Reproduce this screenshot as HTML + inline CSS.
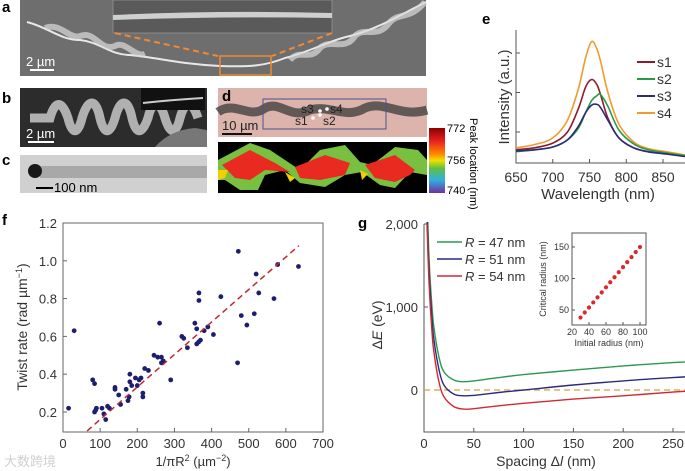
<!DOCTYPE html>
<html><head><meta charset="utf-8"><style>
html,body{margin:0;padding:0;background:#fff;}
svg{display:block;font-family:"Liberation Sans",sans-serif;}
</style></head><body>
<svg id="fig" width="685" height="471" viewBox="0 0 685 471">
<defs>
<linearGradient id="cb" x1="0" y1="0" x2="0" y2="1">
<stop offset="0" stop-color="#8b0000"/><stop offset="0.2" stop-color="#e82020"/><stop offset="0.4" stop-color="#ff8800"/><stop offset="0.5" stop-color="#f0e000"/><stop offset="0.62" stop-color="#5ec040"/><stop offset="0.8" stop-color="#30b0e0"/><stop offset="1" stop-color="#7030a0"/>
</linearGradient>
</defs>

<g>
<text x="2" y="12" font-size="15" font-weight="bold">a</text>
<rect x="20" y="0" width="406" height="76" fill="#6e6e6e"/>
<rect x="113" y="0" width="219" height="33" fill="#5a5a5a" stroke="#999" stroke-width="0.7"/>
<path d="M113 15 Q220 10 332 13 L332 18 Q220 16 113 20 Z" fill="#cfcfcf"/>
<path d="M27 22 C50 28 60 40 80 40 C100 42 110 55 130 55 C160 58 180 64 220 66 C250 67 265 66 285 58 C310 52 330 40 350 36 C380 28 400 15 426 2" fill="none" stroke="#e8e8e8" stroke-width="2"/>
<path d="M45 28 C60 22 70 40 80 36 C95 30 100 52 115 46 C125 40 135 58 145 54 M290 60 C300 48 310 62 320 48 C330 38 345 52 355 36 C365 26 378 40 390 22 C400 12 410 20 425 2" fill="none" stroke="#dcdcdc" stroke-width="6" opacity="0.7"/>
<line x1="115" y1="33" x2="218" y2="56" stroke="#f08a30" stroke-width="2" stroke-dasharray="6,4"/>
<line x1="332" y1="33" x2="272" y2="56" stroke="#f08a30" stroke-width="2" stroke-dasharray="6,4"/>
<rect x="220" y="56" width="51" height="19" fill="none" stroke="#f08a30" stroke-width="1.5"/>
<text x="26" y="66" font-size="13" fill="#fff">2 µm</text>
<rect x="30" y="69" width="24" height="2" fill="#fff"/>
</g>

<g>
<text x="2" y="103" font-size="15" font-weight="bold">b</text>
<rect x="20" y="88" width="187" height="59" fill="#2c2c2c"/>
<path d="M30 118 L50 118 C55 100 62 100 68 118 C72 135 78 135 82 118 C88 98 96 98 100 118 C104 135 110 135 115 118 C120 98 128 98 132 118 C136 135 142 135 148 118 C152 100 160 100 165 118 C170 135 176 135 180 118 C185 100 192 100 198 118" fill="none" stroke="#c8c8c8" stroke-width="9" opacity="0.85"/>
<rect x="141" y="88" width="64" height="22" fill="#111"/>
<path d="M143 103 Q170 100 203 98" stroke="#ccc" stroke-width="2" fill="none"/>
<path d="M155 147 Q170 130 195 128 L207 130 L207 147 Z" fill="#777"/>
<text x="26" y="138" font-size="13" fill="#fff">2 µm</text>
<rect x="28" y="141" width="26" height="2" fill="#fff"/>
</g>

<g>
<text x="2" y="165" font-size="15" font-weight="bold">c</text>
<rect x="20" y="155" width="187" height="38" fill="#d0d0d0"/>
<rect x="40" y="166" width="167" height="12" fill="#a8a8a8"/>
<circle cx="35" cy="171" r="7" fill="#181818"/>
<rect x="36" y="187" width="17" height="2" fill="#000"/>
<text x="54" y="192" font-size="13">100 nm</text>
</g>

<g>
<rect x="218" y="88" width="209" height="49" fill="#dcb4ac"/>
<path d="M218 112 C235 100 250 120 265 108 C280 100 290 120 310 110 C330 104 345 120 365 108 C385 100 400 118 427 110" fill="none" stroke="#3a3a3a" stroke-width="9" opacity="0.75"/>
<rect x="263" y="99" width="123" height="30" fill="none" stroke="#4a5590" stroke-width="1"/>
<circle cx="313" cy="118" r="1.8" fill="#fff"/><circle cx="320" cy="115" r="1.8" fill="#fff"/><circle cx="320" cy="111" r="1.8" fill="#fff"/><circle cx="327" cy="109" r="1.8" fill="#fff"/>
<text x="222" y="101" font-size="15" font-weight="bold">d</text>
<text x="301" y="113" font-size="12" fill="#222">s3</text><text x="330" y="113" font-size="12" fill="#222">s4</text>
<text x="295" y="125" font-size="12" fill="#222">s1</text><text x="323" y="125" font-size="12" fill="#222">s2</text>
<text x="222" y="130" font-size="13" fill="#222">10 µm</text>
<rect x="222" y="133" width="30" height="2" fill="#111"/>
<rect x="218" y="142" width="209" height="51" fill="#000"/>
<path d="M218 160 L250 143 L270 150 L285 160 L300 170 L320 150 L345 145 L360 162 L372 165 L395 147 L418 150 L427 160 L427 175 L410 172 L395 188 L380 185 L362 172 L345 175 L325 187 L300 183 L285 170 L265 175 L258 190 L240 190 L225 180 L218 180 Z" fill="#7ac040"/>
<path d="M222 165 L250 150 L275 163 L290 172 L265 170 L250 180 L235 178 Z M295 167 L325 155 L350 163 L345 175 L320 180 L300 178 Z M365 165 L395 155 L415 170 L410 175 L395 182 L375 178 Z" fill="#e82a20"/>
<path d="M218 170 L228 170 L225 178 L218 180 Z M285 172 L295 178 L290 182 Z M360 170 L368 174 L362 180 Z" fill="#f0d000"/>
<rect x="429" y="128" width="16" height="65" fill="url(#cb)"/>
<text x="447" y="132" font-size="11">772</text>
<text x="447" y="164" font-size="11">756</text>
<text x="447" y="194" font-size="11">740</text>
<text transform="translate(470,118) rotate(90)" font-size="11">Peak location (nm)</text>
</g>

<g id="pe"></g>
<g id="pf"></g>
<g id="pg"></g>

<text x="4" y="466" font-size="13" fill="#d0d0d0">大数跨境</text>
</svg>
<script>
const eWavelengths=[650,675,700,720,735,745,753,760,765,775,790,810,830,855,880];
const eS1=[0.55,0.6,0.72,1.0,1.6,2.15,2.33,2.2,1.95,1.35,0.85,0.6,0.5,0.45,0.38];
const eS2=[0.5,0.55,0.62,0.8,1.1,1.5,1.8,1.92,1.95,1.65,1.05,0.7,0.55,0.47,0.4];
const eS3=[0.52,0.55,0.62,0.8,1.15,1.5,1.68,1.7,1.62,1.3,0.85,0.6,0.5,0.44,0.38];
const eS4=[0.6,0.68,0.85,1.3,2.1,2.9,3.29,3.1,2.8,2.0,1.2,0.75,0.58,0.5,0.42];
const eXTicks=[650,700,750,800,850];
const eSeriesNames=["s1","s2","s3","s4"];
const fX=[15,30,80,85,85,88,90,105,110,115,120,125,140,140,150,155,170,175,178,180,180,185,195,200,205,210,215,215,220,230,245,255,260,265,265,270,290,320,325,335,355,360,360,365,370,380,390,405,470,480,495,515,366,366,425,472,520,527,568,578,634];
const fY=[0.22,0.63,0.37,0.35,0.2,0.21,0.22,0.22,0.19,0.16,0.23,0.22,0.32,0.33,0.29,0.24,0.32,0.26,0.28,0.4,0.36,0.34,0.38,0.34,0.37,0.38,0.3,0.28,0.43,0.42,0.5,0.49,0.67,0.49,0.46,0.47,0.37,0.6,0.59,0.54,0.67,0.64,0.56,0.57,0.58,0.63,0.65,0.61,0.46,0.71,0.66,0.72,0.83,0.79,0.81,1.05,0.93,0.83,0.8,0.98,0.97];
const fFitX=[65,635];
const fFitY=[0.1,1.08];
const fXTicks=[0,100,200,300,400,500,600,700];
const fYTicks=[0.2,0.4,0.6,0.8,1.0,1.2];
const gL=[3,5,8,10,15,20,30,40,50,75,100,150,200,250,280];
const gR47=[2400,1600,1000,750,400,220,120,100,110,150,185,240,290,330,350];
const gR51=[2100,1450,850,600,250,60,-50,-70,-65,-30,0,60,110,150,170];
const gR54=[2000,1300,700,450,100,-80,-200,-230,-225,-190,-160,-110,-70,-25,0];
const gXTicks=[0,50,100,150,200,250];
const gYTicks=[0,1000,2000];
const gYTickLabels=["0","1,000","2,000"];
const gLegend=["47","51","54"];
const gInsetX=[30,35,40,45,50,55,60,65,70,75,80,85,90,95,100];
const gInsetY=[38,46,54,62,70,78,86,94,102,110,118,126,134,142,150];
const gInsetXTicks=[20,40,60,80,100];
const gInsetYTicks=[50,100,150];

const NS="http://www.w3.org/2000/svg";
function mk(parent,tag,attrs){const el=document.createElementNS(NS,tag);for(const k in attrs)el.setAttribute(k,attrs[k]);parent.appendChild(el);return el;}
function lin(d0,d1,r0,r1){return v=>r0+(v-d0)*(r1-r0)/(d1-d0);}
function smooth(pts){
 let d='M'+pts[0][0].toFixed(1)+' '+pts[0][1].toFixed(1);
 for(let i=0;i<pts.length-1;i++){
  const p0=pts[Math.max(i-1,0)],p1=pts[i],p2=pts[i+1],p3=pts[Math.min(i+2,pts.length-1)];
  const c1=[p1[0]+(p2[0]-p0[0])/6,p1[1]+(p2[1]-p0[1])/6];
  const c2=[p2[0]-(p3[0]-p1[0])/6,p2[1]-(p3[1]-p1[1])/6];
  d+=' C'+c1[0].toFixed(1)+' '+c1[1].toFixed(1)+' '+c2[0].toFixed(1)+' '+c2[1].toFixed(1)+' '+p2[0].toFixed(1)+' '+p2[1].toFixed(1);
 }
 return d;
}

(function(){
const g=document.getElementById('pe');
const x=lin(650,850,516,663), y=lin(0,3,171.5,53);
const t=mk(g,'text',{x:482,y:24,'font-size':15,'font-weight':'bold'});t.textContent='e';


const ax=mk(g,'path',{d:'M516 30 L516 163 L685 163',fill:'none',stroke:'#555','stroke-width':1});


[1,2,3].forEach(v=>{mk(g,'line',{x1:516,x2:520,y1:y(v),y2:y(v),stroke:'#555'});});
eXTicks.forEach(v=>{mk(g,'line',{x1:x(v),x2:x(v),y1:163,y2:159,stroke:'#555'});
const l=mk(g,'text',{x:x(v),y:182,'font-size':14,'text-anchor':'middle',fill:'#333'});l.textContent=v;

});
const xt=mk(g,'text',{x:598,y:199,'font-size':15,'text-anchor':'middle',fill:'#333'});xt.textContent='Wavelength (nm)';


const yt=mk(g,'text',{transform:'translate(509,97) rotate(-90)','font-size':15,'text-anchor':'middle',fill:'#333'});yt.textContent='Intensity (a.u.)';


const series=[eS1,eS2,eS3,eS4], cols=['#8a1c2c','#2a9a4a','#2c2a7a','#f09a30'];
[3,0,1,2].forEach(i=>{
 const pts=eWavelengths.map((w,j)=>[x(w),y(series[i][j])]);
 const p=mk(g,'path',{d:smooth(pts),fill:'none',stroke:cols[i],'stroke-width':1.6,'stroke-linejoin':'round'});
 
 
});
eSeriesNames.forEach((n,i)=>{
 const yy=62+i*17;
 mk(g,'line',{x1:637,x2:655,y1:yy,y2:yy,stroke:cols[i],'stroke-width':2});
 const l=mk(g,'text',{x:657,y:yy+5,'font-size':14,fill:'#333'});l.textContent=n;
 
 
});
})();

(function(){
const g=document.getElementById('pf');
const x=lin(0,700,63,323), y=lin(0.2,1.2,412,223);
const t=mk(g,'text',{x:2,y:225,'font-size':15,'font-weight':'bold'});t.textContent='f';


const box=mk(g,'rect',{x:63,y:223,width:260,height:209,fill:'none',stroke:'#666'});


fXTicks.forEach(v=>{mk(g,'line',{x1:x(v),x2:x(v),y1:432,y2:428,stroke:'#666'});
const l=mk(g,'text',{x:x(v),y:448,'font-size':13,'text-anchor':'middle',fill:'#333'});l.textContent=v;

});
fYTicks.forEach(v=>{mk(g,'line',{x1:63,x2:67,y1:y(v),y2:y(v),stroke:'#666'});
const l=mk(g,'text',{x:57,y:y(v)+5,'font-size':13,'text-anchor':'end',fill:'#333'});l.textContent=v.toFixed(1);

});
const xt=mk(g,'text',{x:193,y:466,'font-size':13,'text-anchor':'middle',fill:'#333'});xt.innerHTML='1/πR<tspan dy="-5" font-size="9">2</tspan><tspan dy="5"> (µm</tspan><tspan dy="-5" font-size="9">−2</tspan><tspan dy="5">)</tspan>';


const yt=mk(g,'text',{transform:'translate(27,327) rotate(-90)','font-size':14,'text-anchor':'middle',fill:'#333'});yt.innerHTML='Twist rate (rad µm<tspan dy="-5" font-size="9">−1</tspan><tspan dy="5">)</tspan>';


fX.forEach((v,i)=>{const c=mk(g,'circle',{cx:x(v),cy:y(fY[i]),r:2.4,fill:'#1e1e6e'});

});
const fit=mk(g,'line',{x1:x(fFitX[0]),y1:y(fFitY[0]),x2:x(fFitX[1]),y2:y(fFitY[1]),stroke:'#c02830','stroke-width':1.5,'stroke-dasharray':'6,4'});


})();

(function(){
const g=document.getElementById('pg');
const x=lin(0,250,424,673), y=lin(0,1000,390,307);
const t=mk(g,'text',{x:358,y:228,'font-size':15,'font-weight':'bold'});t.textContent='g';


const ax=mk(g,'path',{d:'M424 224 L424 432 L685 432',fill:'none',stroke:'#555'});


gXTicks.forEach(v=>{mk(g,'line',{x1:x(v),x2:x(v),y1:432,y2:428,stroke:'#555'});
const l=mk(g,'text',{x:x(v),y:448,'font-size':13,'text-anchor':'middle',fill:'#333'});l.textContent=v;

});
gYTicks.forEach((v,i)=>{mk(g,'line',{x1:424,x2:428,y1:y(v),y2:y(v),stroke:'#555'});
const l=mk(g,'text',{x:418,y:y(v)+5,'font-size':13,'text-anchor':'end',fill:'#333'});l.textContent=gYTickLabels[i];

});
const xt=mk(g,'text',{x:546,y:466,'font-size':14,'text-anchor':'middle',fill:'#333'});xt.innerHTML='Spacing Δ<tspan font-style="italic">l</tspan> (nm)';


const yt=mk(g,'text',{transform:'translate(382,325) rotate(-90)','font-size':14,'text-anchor':'middle',fill:'#333'});yt.innerHTML='Δ<tspan font-style="italic">E</tspan> (eV)';


const zl=mk(g,'line',{x1:424,x2:685,y1:y(0),y2:y(0),stroke:'#d8a040','stroke-width':1.2,'stroke-dasharray':'6,4'});


const clip=mk(g,'clipPath',{id:'gclip'});mk(clip,'rect',{x:424,y:222,width:261,height:210});
const series=[gR47,gR51,gR54], cols=['#2a9a50','#2a2a80','#d02a30'];
series.forEach((s,i)=>{
 const pts=gL.map((l,j)=>[x(l),y(s[j])]);
 const p=mk(g,'path',{d:smooth(pts),fill:'none',stroke:cols[i],'stroke-width':1.4,'clip-path':'url(#gclip)'});
 
 
});
gLegend.forEach((n,i)=>{
 const yy=242+i*17;
 mk(g,'line',{x1:437,x2:462,y1:yy,y2:yy,stroke:cols[i],'stroke-width':1.4});
 const l=mk(g,'text',{x:465,y:yy+5,'font-size':13,fill:'#333'});l.innerHTML='<tspan font-style="italic">R</tspan> = '+n+' nm';
 
 
});
const ix=lin(20,100,572,640), iy=lin(50,150,310,247);
const ib=mk(g,'rect',{x:572,y:233,width:74,height:92,fill:'#fff',stroke:'#555'});


gInsetXTicks.forEach(v=>{mk(g,'line',{x1:ix(v),x2:ix(v),y1:325,y2:322,stroke:'#555'});
const l=mk(g,'text',{x:ix(v),y:335,'font-size':9,'text-anchor':'middle',fill:'#333'});l.textContent=v;

});
gInsetYTicks.forEach(v=>{mk(g,'line',{x1:572,x2:575,y1:iy(v),y2:iy(v),stroke:'#555'});
const l=mk(g,'text',{x:569,y:iy(v)+3,'font-size':9,'text-anchor':'end',fill:'#333'});l.textContent=v;

});
const it=mk(g,'text',{x:609,y:346,'font-size':9,'text-anchor':'middle',fill:'#333'});it.textContent='Initial radius (nm)';


const iyt=mk(g,'text',{transform:'translate(546,279) rotate(-90)','font-size':9,'text-anchor':'middle',fill:'#333'});iyt.textContent='Critical radius (nm)';


gInsetX.forEach((v,i)=>{const c=mk(g,'circle',{cx:ix(v),cy:iy(gInsetY[i]),r:2.1,fill:'#d82a2a'});

});
})();
</script>
</body></html>
